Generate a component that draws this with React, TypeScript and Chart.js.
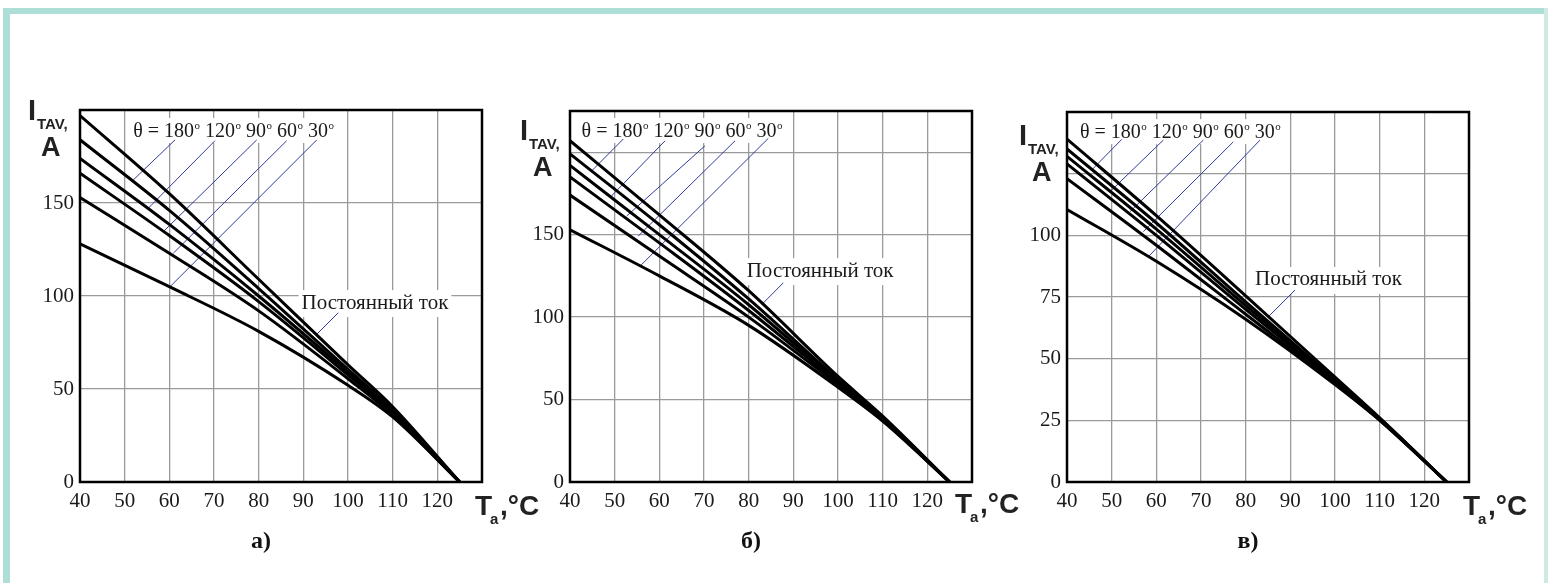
import React, { useEffect, useRef } from 'react';
import { Chart, registerables } from 'chart.js';

Chart.register(...registerables);

// ---------------- data ----------------
const TEMPERATURES = [40, 60, 80, 100, 110, 125];
const X_TICK_VALUES = [40, 50, 60, 70, 80, 90, 100, 110, 120];
const SERIES_LABELS = ['Постоянный ток', 'θ = 180°', 'θ = 120°', 'θ = 90°', 'θ = 60°', 'θ = 30°'];
const THETA_VALUES = ['180', '120', '90', '60', '30'];
const DC_LABEL = 'Постоянный ток';

// panel а)
const PANEL_A_DC = [197, 155, 109, 63, 40.5, 0];
const PANEL_A_180 = [184, 146, 104, 60.5, 39, 0];
const PANEL_A_120 = [174, 138.5, 100, 59, 38, 0];
const PANEL_A_90 = [166, 132.5, 97, 57.5, 37, 0];
const PANEL_A_60 = [153, 123, 92, 55.5, 36, 0];
const PANEL_A_30 = [128, 105, 81, 52, 35, 0];
const PANEL_A_Y_TICKS = [0, 50, 100, 150];

// panel б)
const PANEL_B_DC = [207, 162, 116, 64, 40, 0];
const PANEL_B_180 = [199, 156, 111, 62, 39, 0];
const PANEL_B_120 = [192, 150, 107.5, 61, 38.5, 0];
const PANEL_B_90 = [185, 145, 104, 60, 38, 0];
const PANEL_B_60 = [174, 137, 100, 59, 37.5, 0];
const PANEL_B_30 = [153, 125, 95, 57.5, 37, 0];
const PANEL_B_Y_TICKS = [0, 50, 100, 150];

// panel в)
const PANEL_C_DC = [139, 108, 75.5, 42.5, 26, 0];
const PANEL_C_180 = [135, 105, 73, 41.5, 25.8, 0];
const PANEL_C_120 = [132, 102.5, 71.5, 41, 25.6, 0];
const PANEL_C_90 = [129, 100, 70, 40.5, 25.4, 0];
const PANEL_C_60 = [123, 96, 68, 40, 25.2, 0];
const PANEL_C_30 = [110.5, 89.5, 66, 39.5, 25, 0];
const PANEL_C_Y_TICKS = [0, 25, 50, 75, 100];

// ---------------- layout / annotation config ----------------
const W = 1548;
const H = 583;
const Y_AXIS_W = 60;
const X_AXIS_H = 40;
const SERIF = '"Liberation Serif", "Times New Roman", serif';
const SANS = '"Liberation Sans", Arial, sans-serif';
const LEADER_COLOR = '#2f3b9c';

const PANELS = [
  {
    series: [PANEL_A_DC, PANEL_A_180, PANEL_A_120, PANEL_A_90, PANEL_A_60, PANEL_A_30],
    yMax: 200, yStep: 50, yTicks: PANEL_A_Y_TICKS,
    area: { left: 80, top: 110, right: 482, bottom: 482 },
    theta: { x: 51.9, y: 185.5 },
    thetaLeaders: [
      [61.27, 183.9, 51.93, 162.4],
      [70.22, 183.5, 55.29, 147.2],
      [79.56, 183.9, 58.65, 134.6],
      [86.27, 183.5, 60.89, 123.0],
      [92.99, 183.9, 60.15, 105.0],
    ],
    dcText: { x: 89.6, y: 96.2 },
    dcLeader: [97.82, 91.0, 92.83, 79.0],
    yTitle: { x: 28, y: 120 },
    xTitle: { x: 475, y: 515 },
    caption: { x: 261, y: 548, text: 'а)' },
  },
  {
    series: [PANEL_B_DC, PANEL_B_180, PANEL_B_120, PANEL_B_90, PANEL_B_60, PANEL_B_30],
    yMax: 225, yStep: 50, yTicks: PANEL_B_Y_TICKS,
    area: { left: 570, top: 111, right: 972, bottom: 482 },
    theta: { x: 42.6, y: 209.2 },
    thetaLeaders: [
      [51.93, 208.0, 44.86, 188.7],
      [61.27, 206.9, 48.95, 172.5],
      [70.22, 203.9, 52.69, 161.3],
      [76.94, 206.9, 55.29, 149.2],
      [84.39, 208.4, 55.67, 130.9],
    ],
    dcText: { x: 79.56, y: 127.9 },
    dcLeader: [87.75, 120.8, 82.92, 107.6],
    yTitle: { x: 520, y: 140 },
    xTitle: { x: 955, y: 513 },
    caption: { x: 751, y: 548, text: 'б)' },
  },
  {
    series: [PANEL_C_DC, PANEL_C_180, PANEL_C_120, PANEL_C_90, PANEL_C_60, PANEL_C_30],
    yMax: 150, yStep: 25, yTicks: PANEL_C_Y_TICKS,
    area: { left: 1067, top: 112, right: 1469, bottom: 482 },
    theta: { x: 42.9, y: 139.4 },
    thetaLeaders: [
      [52.25, 138.9, 45.53, 126.5],
      [61.56, 138.6, 49.63, 117.7],
      [70.51, 138.6, 54.1, 109.6],
      [77.23, 137.9, 57.08, 101.5],
      [83.2, 138.6, 58.2, 91.3],
    ],
    dcText: { x: 82.1, y: 81.9 },
    dcLeader: [91.04, 77.8, 85.07, 67.0],
    yTitle: { x: 1019, y: 145 },
    xTitle: { x: 1463, y: 515 },
    caption: { x: 1248, y: 548, text: 'в)' },
  },
];

type PanelCfg = (typeof PANELS)[number];

function makePlugin(cfg: PanelCfg) {
  return {
    id: 'panelAnnotations',
    beforeDatasetsDraw(chart: any) {
      const ctx = chart.ctx as CanvasRenderingContext2D;
      const xs = chart.scales.x;
      const ys = chart.scales.y;
      const px = (v: number) => xs.getPixelForValue(v);
      const py = (v: number) => ys.getPixelForValue(v);
      ctx.save();

      // theta label
      const x0 = px(cfg.theta.x);
      const yb = py(cfg.theta.y);
      const segs: { t: string; sup: boolean }[] = [];
      THETA_VALUES.forEach((v, i) => {
        segs.push({ t: (i === 0 ? 'θ = ' : ' ') + v, sup: false });
        segs.push({ t: 'o', sup: true });
      });
      const mainFont = `20px ${SERIF}`;
      const supFont = `11px ${SERIF}`;
      let total = 0;
      segs.forEach((s) => {
        ctx.font = s.sup ? supFont : mainFont;
        total += ctx.measureText(s.t).width + (s.sup ? 0.5 : 0);
      });
      ctx.fillStyle = '#ffffff';
      ctx.fillRect(x0 - 3, yb - 19, total + 6, 25);
      ctx.fillStyle = '#1a1a1a';
      ctx.textBaseline = 'alphabetic';
      ctx.textAlign = 'left';
      let cx = x0;
      segs.forEach((s) => {
        ctx.font = s.sup ? supFont : mainFont;
        ctx.fillText(s.t, cx + (s.sup ? 0.5 : 0), s.sup ? yb - 8 : yb);
        cx += ctx.measureText(s.t).width + (s.sup ? 0.5 : 0);
      });

      // DC label
      ctx.font = `21px ${SERIF}`;
      const dx = px(cfg.dcText.x);
      const dy = py(cfg.dcText.y);
      const dw = ctx.measureText(DC_LABEL).width;
      ctx.fillStyle = '#ffffff';
      ctx.fillRect(dx - 3, dy - 13, dw + 6, 27);
      ctx.fillStyle = '#1a1a1a';
      ctx.textBaseline = 'middle';
      ctx.fillText(DC_LABEL, dx, dy);

      // leaders
      ctx.strokeStyle = LEADER_COLOR;
      ctx.lineWidth = 1;
      const leaders = [...cfg.thetaLeaders, cfg.dcLeader];
      leaders.forEach((l) => {
        ctx.beginPath();
        ctx.moveTo(px(l[0]), py(l[1]));
        ctx.lineTo(px(l[2]), py(l[3]));
        ctx.stroke();
      });
      ctx.restore();
    },
    afterDatasetsDraw(chart: any) {
      const ctx = chart.ctx as CanvasRenderingContext2D;
      const a = chart.chartArea;
      ctx.save();
      ctx.strokeStyle = '#000';
      ctx.lineWidth = 2.5;
      ctx.strokeRect(a.left, a.top, a.right - a.left, a.bottom - a.top);
      ctx.restore();
    },
    afterDraw(chart: any) {
      const ctx = chart.ctx as CanvasRenderingContext2D;
      ctx.save();
      ctx.fillStyle = '#222';
      ctx.textBaseline = 'alphabetic';
      ctx.textAlign = 'left';
      // y title: I_TAV, A
      const yt = cfg.yTitle;
      ctx.font = `bold 29px ${SANS}`;
      ctx.fillText('I', yt.x, yt.y);
      ctx.font = `bold 15px ${SANS}`;
      ctx.fillText('TAV,', yt.x + 9, yt.y + 9);
      ctx.font = `bold 27px ${SANS}`;
      ctx.fillText('A', yt.x + 13, yt.y + 36);
      // x title: T_a ,°C
      const xt = cfg.xTitle;
      ctx.font = `bold 28px ${SANS}`;
      ctx.fillText('T', xt.x, xt.y);
      ctx.font = `bold 15px ${SANS}`;
      ctx.fillText('a', xt.x + 15, xt.y + 9);
      ctx.font = `bold 28px ${SANS}`;
      ctx.fillText(',°C', xt.x + 25, xt.y);
      // caption
      ctx.fillStyle = '#111';
      ctx.textAlign = 'center';
      ctx.font = `bold 24px ${SERIF}`;
      ctx.fillText(cfg.caption.text, cfg.caption.x, cfg.caption.y);
      ctx.restore();
    },
  };
}

function Panel({ cfg }: { cfg: PanelCfg }) {
  const ref = useRef<HTMLCanvasElement | null>(null);
  useEffect(() => {
    if (!ref.current) return;
    const area = cfg.area;
    const chart = new Chart(ref.current, {
      type: 'line',
      data: {
        datasets: cfg.series.map((vals, i) => ({
          label: SERIES_LABELS[i],
          data: TEMPERATURES.map((t, j) => ({ x: t, y: vals[j] })),
          borderColor: '#000',
          borderWidth: 3,
          pointRadius: 0,
          fill: false,
          cubicInterpolationMode: 'monotone' as const,
        })),
      },
      options: {
        animation: false,
        responsive: false,
        maintainAspectRatio: false,
        events: [],
        layout: {
          padding: {
            left: area.left - Y_AXIS_W,
            top: area.top,
            right: W - area.right,
            bottom: H - area.bottom - X_AXIS_H,
          },
        },
        plugins: { legend: { display: false }, tooltip: { enabled: false } },
        scales: {
          x: {
            type: 'linear',
            min: 40,
            max: 130,
            afterFit: (s: any) => { s.height = X_AXIS_H; },
            grid: { color: '#9a9a9a', lineWidth: 1.3, drawTicks: false },
            border: { display: false },
            ticks: {
              stepSize: 10,
              padding: 7,
              color: '#1a1a1a',
              font: { family: SERIF, size: 21 },
              maxRotation: 0,
              autoSkip: false,
              callback: (v: any) => (X_TICK_VALUES.includes(Number(v)) ? String(v) : ''),
            },
          },
          y: {
            type: 'linear',
            min: 0,
            max: cfg.yMax,
            afterFit: (s: any) => { s.width = Y_AXIS_W; },
            grid: { color: '#9a9a9a', lineWidth: 1.3, drawTicks: false },
            border: { display: false },
            ticks: {
              stepSize: cfg.yStep,
              padding: 6,
              color: '#1a1a1a',
              font: { family: SERIF, size: 21 },
              autoSkip: false,
              callback: (v: any) => (cfg.yTicks.includes(Number(v)) ? String(v) : ''),
            },
          },
        },
      },
      plugins: [makePlugin(cfg)],
    } as any);
    return () => chart.destroy();
  }, [cfg]);
  return (
    <canvas
      ref={ref}
      width={W}
      height={H}
      style={{ position: 'absolute', left: 0, top: 0, width: W, height: H }}
    />
  );
}

export default function App() {
  const teal = '#aedfd6';
  return (
    <div
      style={{
        position: 'fixed',
        left: 0,
        top: 0,
        width: W,
        height: H,
        background: '#ffffff',
        overflow: 'hidden',
      }}
    >
      <div style={{ position: 'absolute', left: 3, top: 8, width: W - 3, height: 6, background: teal }} />
      <div style={{ position: 'absolute', left: 3, top: 8, width: 7, height: H - 8, background: teal }} />
      <div style={{ position: 'absolute', left: W - 4, top: 8, width: 4, height: H - 8, background: '#cdeae4' }} />
      {PANELS.map((p, i) => (
        <Panel key={i} cfg={p} />
      ))}
    </div>
  );
}
